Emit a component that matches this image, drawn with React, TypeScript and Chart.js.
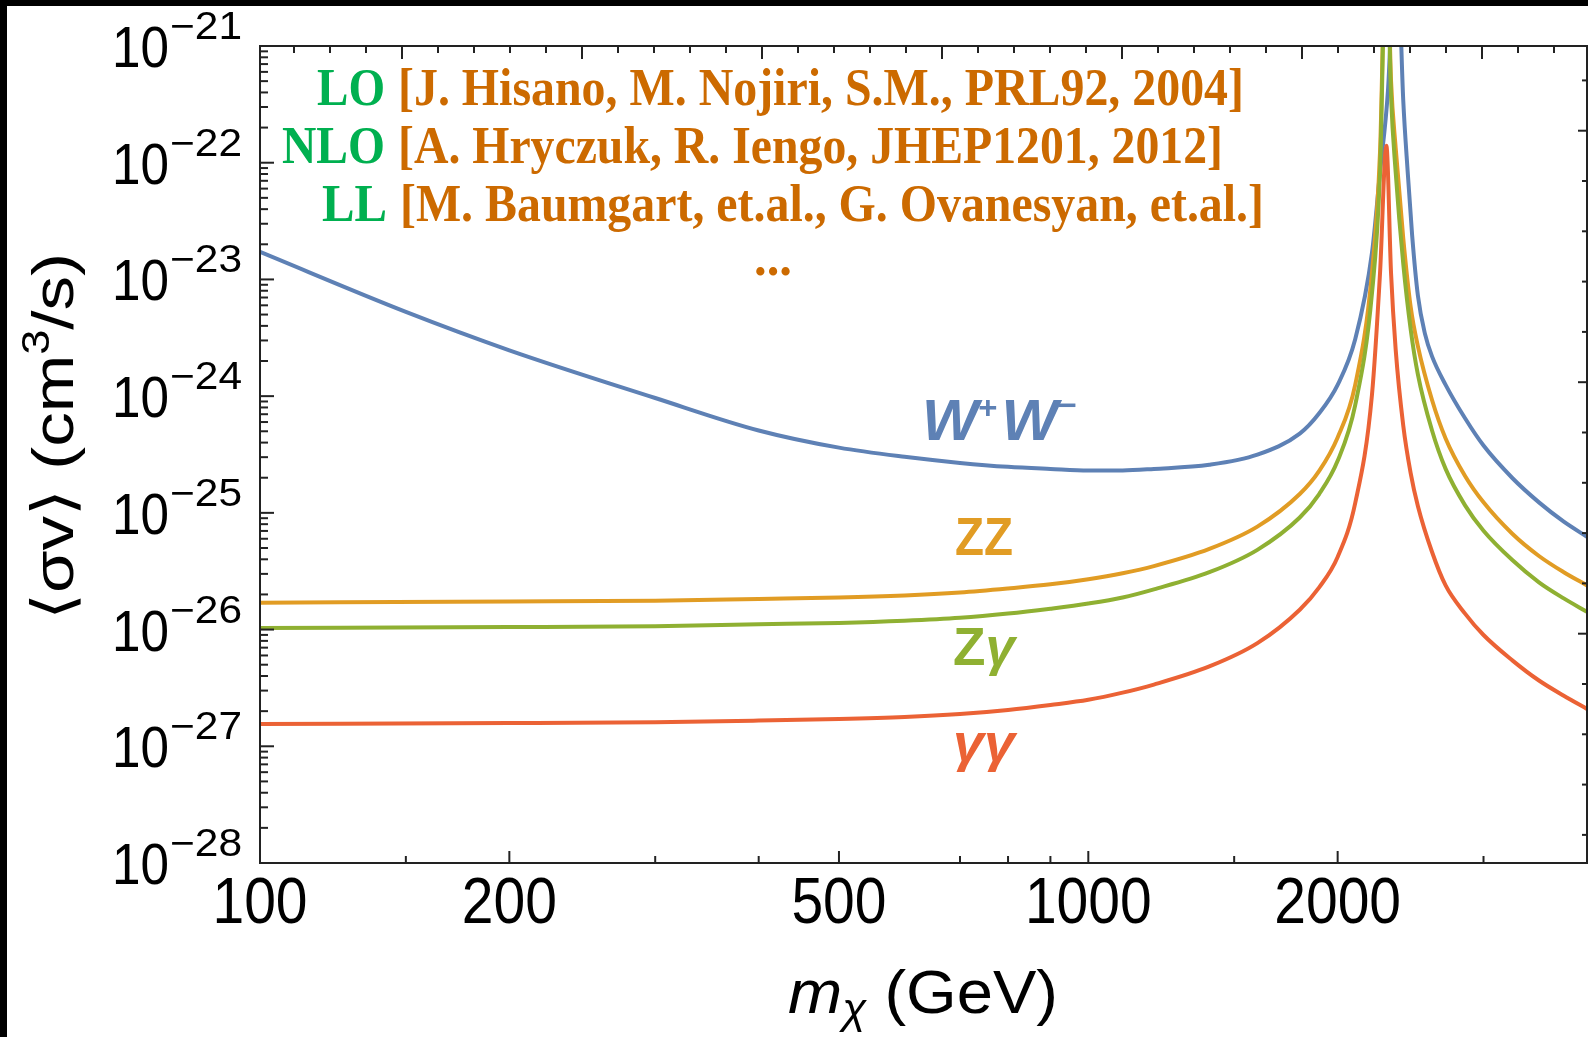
import React, { useEffect, useRef } from 'react';
import { Chart, registerables } from 'chart.js';

Chart.register(...registerables);

// ---------- data ----------
const WW_MASS = [100, 150, 200, 300, 400, 500, 600, 700, 800, 900, 1000, 1100, 1200, 1400, 1600, 1800, 1900, 2000, 2100, 2200, 2250, 2300, 2355, 2400, 2430, 2460, 2500, 2550, 2600, 2700, 2850, 3000, 3250, 3500, 3750, 4000];
const WW_SIGMA = [1.72e-23, 5.27e-24, 2.47e-24, 9.64e-25, 5.08e-25, 3.62e-25, 3.02e-25, 2.68e-25, 2.48e-25, 2.38e-25, 2.31e-25, 2.31e-25, 2.38e-25, 2.58e-25, 3.15e-25, 4.78e-25, 7.14e-25, 1.25e-24, 3.07e-24, 1.68e-23, 8.3e-23, 4.1e-22, 1e-20, 3.43e-22, 8.3e-23, 2.4e-23, 7.24e-24, 3.4e-24, 2.19e-24, 1.25e-24, 6.46e-25, 3.77e-25, 1.99e-25, 1.23e-25, 8.41e-26, 6.24e-26];

const NEUTRAL_MASS = [100, 200, 300, 400, 500, 600, 700, 800, 900, 1000, 1100, 1200, 1400, 1600, 1800, 1900, 2000, 2100, 2200, 2250, 2290, 2320, 2350, 2400, 2450, 2500, 2600, 2700, 2850, 3000, 3250, 3500, 3750, 4000];
const ZZ_SIGMA = [1.70e-26, 1.74e-26, 1.77e-26, 1.83e-26, 1.88e-26, 1.96e-26, 2.08e-26, 2.25e-26, 2.44e-26, 2.70e-26, 3.04e-26, 3.50e-26, 4.91e-26, 7.62e-26, 1.45e-25, 2.29e-25, 4.43e-25, 1.25e-24, 1.13e-23, 1.24e-22, 1e-20, 5.01e-22, 1.34e-22, 2.26e-23, 5.82e-24, 2.67e-24, 9.27e-25, 4.34e-25, 2.07e-25, 1.23e-25, 6.62e-26, 4.27e-26, 3.10e-26, 2.39e-26];
const ZGAMMA_SIGMA = [1.03e-26, 1.05e-26, 1.07e-26, 1.11e-26, 1.14e-26, 1.19e-26, 1.26e-26, 1.37e-26, 1.51e-26, 1.67e-26, 1.88e-26, 2.21e-26, 3.10e-26, 4.82e-26, 9.12e-26, 1.45e-25, 2.79e-25, 8.38e-25, 7.55e-24, 8.3e-23, 1e-20, 3.72e-22, 8.3e-23, 1.37e-23, 3.75e-24, 1.53e-24, 5.08e-25, 2.38e-25, 1.16e-25, 7.03e-26, 3.94e-26, 2.54e-26, 1.85e-26, 1.42e-26];
const GAMMAGAMMA_SIGMA = [1.55e-27, 1.58e-27, 1.61e-27, 1.66e-27, 1.71e-27, 1.78e-27, 1.89e-27, 2.05e-27, 2.26e-27, 2.50e-27, 2.88e-27, 3.38e-27, 4.83e-27, 7.65e-27, 1.48e-26, 2.30e-26, 4.19e-26, 1.21e-25, 1.02e-24, 1.13e-23, 1.4e-22, 1.13e-23, 2.51e-24, 5.61e-25, 2.19e-25, 1.14e-25, 4.62e-26, 2.39e-26, 1.37e-26, 8.98e-27, 5.45e-27, 3.66e-27, 2.71e-27, 2.09e-27];

const X_MAJOR_TICKS = [100, 200, 500, 1000, 2000];
const X_TICK_LABELS = ['100', '200', '500', '1000', '2000'];
const X_MINOR_TICKS = [150, 300, 400, 700, 800, 900, 1500, 3000];
const Y_EXPONENTS = [-28, -27, -26, -25, -24, -23, -22, -21];
const Y_TICK_SUPERSCRIPTS = ['−28', '−27', '−26', '−25', '−24', '−23', '−22', '−21'];

const REF_TAGS = ['LO', 'NLO', 'LL'];
const REF_TEXTS = [
  '[J. Hisano, M. Nojiri, S.M., PRL92, 2004]',
  '[A. Hryczuk, R. Iengo, JHEP1201, 2012]',
  '[M. Baumgart, et.al., G. Ovanesyan, et.al.]',
];

// ---------- styles ----------
const C_WW = '#5E81B5';
const C_ZZ = '#E19C24';
const C_ZG = '#8FB032';
const C_GG = '#EB6235';
const C_TAG = '#00B050';
const C_REF = '#CC6A00';
const SANS = '"Liberation Sans", Arial, "DejaVu Sans", sans-serif';
const SERIF = '"Liberation Serif", "Times New Roman", serif';
const AXIS = '#222222';

type Run = { t: string; font: string; color: string; dy?: number };

function drawRuns(
  ctx: CanvasRenderingContext2D,
  runs: Run[],
  x: number,
  y: number,
  width: number | null,
  align: 'left' | 'right' | 'center'
) {
  ctx.save();
  let total = 0;
  const ws = runs.map((r) => {
    ctx.font = r.font;
    const w = ctx.measureText(r.t).width;
    total += w;
    return w;
  });
  const s = width ? width / total : 1;
  const w = total * s;
  const x0 = align === 'left' ? x : align === 'right' ? x - w : x - w / 2;
  ctx.translate(x0, y);
  ctx.scale(s, 1);
  ctx.textAlign = 'left';
  ctx.textBaseline = 'alphabetic';
  let cx = 0;
  runs.forEach((r, i) => {
    ctx.font = r.font;
    ctx.fillStyle = r.color;
    ctx.fillText(r.t, cx, r.dy || 0);
    cx += ws[i];
  });
  ctx.restore();
}

const decorPlugin = {
  id: 'decor',
  beforeDraw(chart: any) {
    const ctx: CanvasRenderingContext2D = chart.ctx;
    ctx.save();
    ctx.fillStyle = '#ffffff';
    ctx.fillRect(0, 0, chart.width, chart.height);
    ctx.fillStyle = '#000000';
    ctx.fillRect(0, 0, chart.width, 6);
    ctx.fillRect(0, 0, 7, chart.height);
    ctx.restore();
  },
  afterDraw(chart: any) {
    const ctx: CanvasRenderingContext2D = chart.ctx;
    const { left, right, top, bottom } = chart.chartArea;
    const xs = chart.scales.x;
    const ys = chart.scales.y;
    const x2 = chart.scales.x2;
    const y2 = chart.scales.y2;

    ctx.save();
    ctx.strokeStyle = AXIS;
    ctx.lineWidth = 2;
    ctx.strokeRect(left, top, right - left, bottom - top);

    const line = (ax: number, ay: number, bx: number, by: number) => {
      ctx.beginPath();
      ctx.moveTo(ax, ay);
      ctx.lineTo(bx, by);
      ctx.stroke();
    };

    // left (log) ticks
    Y_EXPONENTS.forEach((e) => {
      const py = ys.getPixelForValue(Math.pow(10, e));
      line(left, py, left + 14, py);
      if (e < -21) {
        for (let k = 2; k <= 9; k++) {
          const p = ys.getPixelForValue(k * Math.pow(10, e));
          line(left, p, left + 8, p);
        }
      }
    });
    // bottom (log) ticks
    X_MAJOR_TICKS.forEach((v) => {
      const px = xs.getPixelForValue(v);
      line(px, bottom, px, bottom - 12);
    });
    X_MINOR_TICKS.forEach((v) => {
      const px = xs.getPixelForValue(v);
      line(px, bottom, px, bottom - 7);
    });
    // top (linear) ticks
    for (let v = Math.ceil(x2.min); v <= Math.floor(x2.max); v++) {
      const px = x2.getPixelForValue(v);
      line(px, top, px, top + (v % 5 === 0 ? 13 : 7));
    }
    // right (linear) ticks
    for (let v = Math.ceil(y2.min); v <= Math.floor(y2.max); v++) {
      const py = y2.getPixelForValue(v);
      line(right, py, right - (v % 5 === 0 ? 9 : 5), py);
    }
    ctx.restore();

    // y tick labels 10^n
    Y_EXPONENTS.forEach((e, i) => {
      const py = ys.getPixelForValue(Math.pow(10, e));
      drawRuns(ctx, [{ t: '10', font: `58px ${SANS}`, color: '#000' }], 169, py + 21, 57, 'right');
      drawRuns(ctx, [{ t: Y_TICK_SUPERSCRIPTS[i], font: `38px ${SANS}`, color: '#000' }], 170, py - 7, 72, 'left');
    });
    // x tick labels
    X_MAJOR_TICKS.forEach((v, i) => {
      const px = xs.getPixelForValue(v);
      const lab = X_TICK_LABELS[i];
      drawRuns(ctx, [{ t: lab, font: `64px ${SANS}`, color: '#000' }], px, 923, lab.length * 31.7, 'center');
    });

    // axis titles
    drawRuns(
      ctx,
      [
        { t: 'm', font: `italic 62px ${SANS}`, color: '#000' },
        { t: 'χ', font: `italic 42px ${SANS}`, color: '#000', dy: 10 },
        { t: ' (GeV)', font: `62px ${SANS}`, color: '#000' },
      ],
      788,
      1013,
      270,
      'left'
    );
    ctx.save();
    ctx.translate(73, 620);
    ctx.rotate(-Math.PI / 2);
    drawRuns(
      ctx,
      [
        { t: '⟨σv⟩ (cm', font: `58px ${SANS}`, color: '#000' },
        { t: '3', font: `38px ${SANS}`, color: '#000', dy: -24 },
        { t: '/s)', font: `58px ${SANS}`, color: '#000' },
      ],
      0,
      0,
      367,
      'left'
    );
    ctx.restore();

    // reference annotations
    const tagRight = [385, 385, 387];
    const refLeft = [398, 398, 400];
    const refRight = [1244, 1223, 1264];
    const tagLeft = [317, 282, 322];
    const base = [105, 163, 221];
    REF_TAGS.forEach((tag, i) => {
      drawRuns(ctx, [{ t: tag, font: `bold 52px ${SERIF}`, color: C_TAG }], tagRight[i], base[i], tagRight[i] - tagLeft[i], 'right');
      drawRuns(ctx, [{ t: REF_TEXTS[i], font: `bold 52px ${SERIF}`, color: C_REF }], refLeft[i], base[i], refRight[i] - refLeft[i], 'left');
    });
    drawRuns(ctx, [{ t: '...', font: `bold 52px ${SERIF}`, color: C_REF }], 773, 275, 38, 'center');

    // curve labels
    drawRuns(
      ctx,
      [
        { t: 'W', font: `italic bold 58px ${SANS}`, color: C_WW },
        { t: '+', font: `bold 32px ${SANS}`, color: C_WW, dy: -22 },
        { t: ' ', font: `bold 14px ${SANS}`, color: C_WW },
        { t: 'W', font: `italic bold 58px ${SANS}`, color: C_WW },
        { t: '−', font: `bold 32px ${SANS}`, color: C_WW, dy: -24 },
      ],
      922,
      440,
      155,
      'left'
    );
    drawRuns(ctx, [{ t: 'ZZ', font: `bold 53px ${SANS}`, color: C_ZZ }], 955, 555, 58, 'left');
    drawRuns(
      ctx,
      [
        { t: 'Z', font: `bold 53px ${SANS}`, color: C_ZG },
        { t: 'γ', font: `italic bold 53px ${SANS}`, color: C_ZG },
      ],
      953,
      665,
      62,
      'left'
    );
    drawRuns(ctx, [{ t: 'γγ', font: `italic bold 53px ${SANS}`, color: C_GG }], 953, 761, 62, 'left');
  },
};

function toPoints(xs: number[], ys: number[]) {
  return xs.map((x, i) => ({ x, y: ys[i] }));
}

export default function App() {
  const ref = useRef<HTMLCanvasElement | null>(null);

  useEffect(() => {
    if (!ref.current) return;
    const common = {
      borderWidth: 4,
      pointRadius: 0,
      fill: false,
      cubicInterpolationMode: 'monotone' as const,
      clip: 0,
    };
    const chart = new Chart(ref.current, {
      type: 'line',
      data: {
        datasets: [
          { ...common, label: 'W⁺W⁻', data: toPoints(WW_MASS, WW_SIGMA), borderColor: C_WW, order: 4 },
          { ...common, label: 'ZZ', data: toPoints(NEUTRAL_MASS, ZZ_SIGMA), borderColor: C_ZZ, order: 3 },
          { ...common, label: 'Zγ', data: toPoints(NEUTRAL_MASS, ZGAMMA_SIGMA), borderColor: C_ZG, order: 2 },
          { ...common, label: 'γγ', data: toPoints(NEUTRAL_MASS, GAMMAGAMMA_SIGMA), borderColor: C_GG, order: 1 },
        ],
      },
      options: {
        animation: false,
        responsive: false,
        devicePixelRatio: 1,
        layout: { padding: { left: 260, top: 46, right: 1, bottom: 174 } },
        plugins: { legend: { display: false }, tooltip: { enabled: false } },
        scales: {
          x: { type: 'logarithmic', min: 100, max: 4000, display: false },
          y: { type: 'logarithmic', min: 1e-28, max: 1e-21, display: false },
          x2: { type: 'linear', position: 'top', min: -3.944, max: 32.917, display: false },
          y2: { type: 'linear', position: 'right', min: -14.559, max: 1.684, display: false },
        },
      } as any,
      plugins: [decorPlugin],
    });
    return () => chart.destroy();
  }, []);

  return (
    <div style={{ position: 'fixed', left: 0, top: 0, width: 1588, height: 1037, background: '#fff' }}>
      <canvas ref={ref} width={1588} height={1037} style={{ width: 1588, height: 1037, display: 'block' }} />
    </div>
  );
}
